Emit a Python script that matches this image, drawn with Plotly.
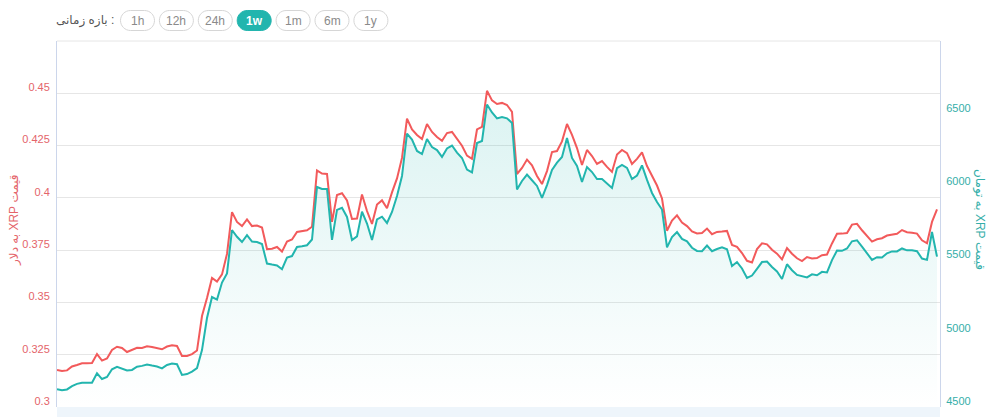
import plotly.graph_objects as go

# ---------------- data ----------------
usd_price = [
    0.3177, 0.3172, 0.3175, 0.3194, 0.3201, 0.3209, 0.3209, 0.3210, 0.3253, 0.3222,
    0.3232, 0.3273, 0.3288, 0.3282, 0.3263, 0.3273, 0.3283, 0.3282, 0.3290, 0.3287,
    0.3282, 0.3276, 0.3289, 0.3295, 0.3292, 0.3244, 0.3244, 0.3253, 0.3270, 0.3435,
    0.3521, 0.3617, 0.3600, 0.3634, 0.3732, 0.3932, 0.3885, 0.3865, 0.3897, 0.3865,
    0.3868, 0.3858, 0.3755, 0.3757, 0.3765, 0.3743, 0.3791, 0.3801, 0.3837, 0.3840,
    0.3845, 0.3862, 0.4131, 0.4116, 0.4114, 0.3885, 0.4014, 0.4022, 0.3988, 0.3899,
    0.3901, 0.4016, 0.3937, 0.3875, 0.3968, 0.3988, 0.3950, 0.4026, 0.4093, 0.4191,
    0.4379, 0.4327, 0.4301, 0.4281, 0.4353, 0.4315, 0.4291, 0.4273, 0.4310, 0.4315,
    0.4283, 0.4249, 0.4202, 0.4187, 0.4327, 0.4339, 0.4512, 0.4466, 0.4449, 0.4454,
    0.4444, 0.4411, 0.4114, 0.4143, 0.4183, 0.4156, 0.4105, 0.4066, 0.4128, 0.4219,
    0.4224, 0.4270, 0.4353, 0.4301, 0.4238, 0.4157, 0.4229, 0.4200, 0.4162, 0.4176,
    0.4148, 0.4124, 0.4207, 0.4229, 0.4214, 0.4162, 0.4186, 0.4217, 0.4152, 0.4107,
    0.4059, 0.3997, 0.3843, 0.3891, 0.3916, 0.3882, 0.3865, 0.3840, 0.3830, 0.3832,
    0.3853, 0.3826, 0.3837, 0.3839, 0.3842, 0.3775, 0.3766, 0.3736, 0.3699, 0.3691,
    0.3755, 0.3783, 0.3778, 0.3752, 0.3733, 0.3706, 0.3760, 0.3733, 0.3711, 0.3698,
    0.3717, 0.3710, 0.3712, 0.3726, 0.3729, 0.3782, 0.3828, 0.3829, 0.3832, 0.3872,
    0.3876, 0.3845, 0.3818, 0.3791, 0.3802, 0.3807, 0.3820, 0.3825, 0.3828, 0.3846,
    0.3836, 0.3833, 0.3829, 0.3797, 0.3783, 0.3885, 0.3945,
]

toman_price = [
    4621, 4614, 4620, 4643, 4658, 4666, 4666, 4666, 4730, 4691,
    4705, 4758, 4775, 4764, 4749, 4753, 4775, 4781, 4790, 4783,
    4777, 4764, 4787, 4797, 4792, 4719, 4725, 4742, 4766, 4889,
    5108, 5251, 5234, 5350, 5412, 5709, 5663, 5627, 5674, 5630,
    5627, 5613, 5480, 5473, 5467, 5441, 5521, 5531, 5593, 5598,
    5605, 5644, 6003, 5989, 5989, 5641, 5846, 5861, 5798, 5641,
    5665, 5834, 5753, 5641, 5781, 5800, 5757, 5832, 5941, 6078,
    6368, 6327, 6249, 6228, 6331, 6276, 6255, 6208, 6266, 6286,
    6238, 6201, 6122, 6102, 6303, 6317, 6566, 6512, 6471, 6481,
    6472, 6440, 5986, 6044, 6088, 6049, 6010, 5928, 6016, 6119,
    6169, 6208, 6337, 6201, 6146, 6037, 6139, 6105, 6057, 6057,
    6027, 5996, 6131, 6153, 6133, 6057, 6081, 6150, 6051, 5962,
    5900, 5849, 5590, 5661, 5695, 5648, 5632, 5588, 5566, 5564,
    5603, 5564, 5579, 5590, 5577, 5463, 5490, 5446, 5381, 5398,
    5444, 5490, 5494, 5456, 5426, 5374, 5475, 5434, 5402, 5393,
    5385, 5406, 5400, 5423, 5419, 5503, 5569, 5567, 5583, 5632,
    5639, 5595, 5552, 5505, 5523, 5521, 5550, 5563, 5563, 5583,
    5570, 5570, 5564, 5514, 5505, 5695, 5527,
]

hours = list(range(len(usd_price)))

usd_ticks = [0.3, 0.325, 0.35, 0.375, 0.4, 0.425, 0.45]
usd_tick_labels = ["0.3", "0.325", "0.35", "0.375", "0.4", "0.425", "0.45"]
toman_ticks = [4500, 5000, 5500, 6000, 6500]
toman_tick_labels = ["4500", "5000", "5500", "6000", "6500"]

periods = ["1h", "12h", "24h", "1w", "1m", "6m", "1y"]
active_period = "1w"
period_label = "بازه زمانی :"
usd_title = "قیمت XRP به دلار"
toman_title = "قیمت XRP به تومان"

# ---------------- style / layout ----------------
W, H = 994, 417
L, R, T, B = 57, 940, 41, 407
RED = "#f25a5b"
RED_TXT = "#e4646a"
TEAL = "#22b5ae"
TEAL_TXT = "#35aea9"
FONT = "Liberation Sans, DejaVu Sans, sans-serif"


def px(x):
    return (x - L) / (R - L)


def py(y):
    return (B - y) / (B - T)


def pill_path(x0, x1, y0, y1):
    r = (y1 - y0) / 2.0
    k = 0.5523 * r
    ym = y0 + r
    pts = [
        ("M", [(x0 + r, y0)]),
        ("L", [(x1 - r, y0)]),
        ("C", [(x1 - r + k, y0), (x1, ym - k), (x1, ym)]),
        ("C", [(x1, ym + k), (x1 - r + k, y1), (x1 - r, y1)]),
        ("L", [(x0 + r, y1)]),
        ("C", [(x0 + r - k, y1), (x0, ym + k), (x0, ym)]),
        ("C", [(x0, ym - k), (x0 + r - k, y0), (x0 + r, y0)]),
    ]
    s = ""
    for cmd, ps in pts:
        s += cmd + " " + " ".join(f"{px(a):.5f},{py(b):.5f}" for a, b in ps) + " "
    return s + "Z"


fig = go.Figure()

fig.add_trace(go.Scatter(
    x=hours, y=toman_price, yaxis="y2", mode="lines",
    line=dict(color=TEAL, width=2),
    fill="tozeroy",
    fillgradient=dict(
        type="vertical",
        colorscale=[[0, "rgba(34,181,174,0.0)"], [1, "rgba(34,181,174,0.16)"]],
        start=4500, stop=6600,
    ),
    hoverinfo="skip", showlegend=False,
))

fig.add_trace(go.Scatter(
    x=hours, y=usd_price, yaxis="y", mode="lines",
    line=dict(color=RED, width=2),
    hoverinfo="skip", showlegend=False,
))

shapes = []
# bottom light strip
shapes.append(dict(type="rect", xref="paper", yref="paper",
                   x0=0, x1=1, y0=py(417), y1=0,
                   fillcolor="#eef5fb", line=dict(width=0), layer="below"))
# top border
shapes.append(dict(type="line", xref="paper", yref="paper",
                   x0=0, x1=1, y0=1, y1=1,
                   line=dict(color="#e6e6e6", width=1)))

annotations = []
# period selector
annotations.append(dict(text=period_label, xref="paper", yref="paper",
                        x=px(116), y=py(20.5), xanchor="right", yanchor="middle",
                        showarrow=False, font=dict(family=FONT, size=12, color="#555555")))
for k, p in enumerate(periods):
    x0 = 120.5 + 38.9 * k
    x1 = x0 + 34
    active = (p == active_period)
    shapes.append(dict(type="path", xref="paper", yref="paper",
                       path=pill_path(x0, x1, 10.5, 30.5),
                       fillcolor=TEAL if active else "#ffffff",
                       line=dict(color=TEAL if active else "#d6d6d6", width=1)))
    annotations.append(dict(text=f"<b>{p}</b>" if active else p,
                            xref="paper", yref="paper",
                            x=px((x0 + x1) / 2), y=py(20.5),
                            xanchor="center", yanchor="middle", showarrow=False,
                            font=dict(family=FONT, size=12,
                                      color="#ffffff" if active else "#8a8a8a")))

# axis titles
annotations.append(dict(text="\u202b" + usd_title + "\u202c", xref="paper", yref="paper",
                        x=px(14), y=py(220), textangle=-90, showarrow=False,
                        xanchor="center", yanchor="middle",
                        font=dict(family=FONT, size=12, color=RED_TXT)))
annotations.append(dict(text="\u202b" + toman_title + "\u202c", xref="paper", yref="paper",
                        x=px(980), y=py(220), textangle=90, showarrow=False,
                        xanchor="center", yanchor="middle",
                        font=dict(family=FONT, size=12, color=TEAL_TXT)))

fig.update_layout(
    width=W, height=H, autosize=False,
    margin=dict(l=L, r=W - R, t=T, b=H - B, pad=0),
    paper_bgcolor="#ffffff", plot_bgcolor="#ffffff",
    font=dict(family=FONT, size=12),
    showlegend=False,
    xaxis=dict(range=[0, len(hours) - 1 + 0.6], showgrid=False, zeroline=False,
               showticklabels=False, ticks="", showline=False, fixedrange=True),
    yaxis=dict(range=[0.3, 0.475], tickvals=usd_ticks, ticktext=usd_tick_labels,
               showgrid=True, gridcolor="#e6e6e6", gridwidth=1, zeroline=False,
               showline=True, linecolor="#ccd6eb", linewidth=1,
               ticks="", ticklabelstandoff=4, ticklabelshift=-6,
               tickfont=dict(family=FONT, size=11, color=RED_TXT)),
    yaxis2=dict(range=[4500, 7000], tickvals=toman_ticks, ticktext=toman_tick_labels,
                overlaying="y", side="right", showgrid=False, zeroline=False,
                showline=True, linecolor="#ccd6eb", linewidth=1,
                ticks="", ticklabelstandoff=3, ticklabelshift=-6,
                tickfont=dict(family=FONT, size=11, color=TEAL_TXT)),
    shapes=shapes,
    annotations=annotations,
)

fig.write_html("out.html", config={"displayModeBar": False},
               post_script="document.body.style.margin='0';")
